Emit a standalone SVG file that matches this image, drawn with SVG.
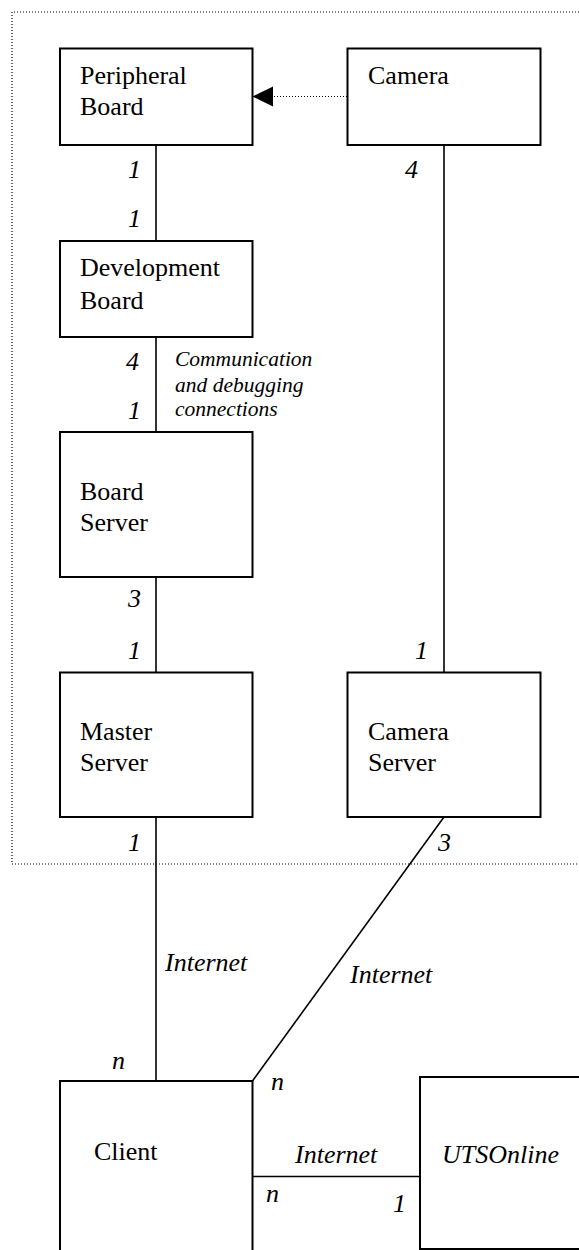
<svg xmlns="http://www.w3.org/2000/svg" width="579" height="1250" viewBox="0 0 579 1250">
<style>
.box{fill:#fff;stroke:#000;stroke-width:2}
.t{font-family:"Liberation Serif","Times New Roman",serif;font-size:26px;fill:#000}
.i{font-family:"Liberation Serif","Times New Roman",serif;font-size:26px;font-style:italic;fill:#000}
.s{font-family:"Liberation Serif","Times New Roman",serif;font-size:21.5px;font-style:italic;fill:#000}
.ln{stroke:#000;stroke-width:1.6;fill:none}
.dot{stroke:#000;stroke-width:1.2;stroke-dasharray:1 2;fill:none}
</style>
<g id="boundary">
<path class="dot" d="M579,12 H12 V864 H579"/>
</g>
<g id="connectors">
<path class="dot" d="M347,96.5 H273"/>
<path d="M252.5,96.5 L273,86.5 L273,106.5 Z" fill="#000"/>
<line class="ln" x1="156" y1="145" x2="156" y2="241"/>
<line class="ln" x1="444" y1="145" x2="444" y2="678"/>
<line class="ln" x1="156" y1="337" x2="156" y2="432"/>
<line class="ln" x1="156" y1="573" x2="156" y2="672"/>
<line class="ln" x1="156" y1="817" x2="156" y2="1081"/>
<line class="ln" x1="444" y1="817" x2="252.5" y2="1081"/>
<line class="ln" x1="252.5" y1="1176.5" x2="420" y2="1176.5"/>
</g>
<g id="peripheral-board">
<rect class="box" x="60" y="48.5" width="192.5" height="96.5"/>
<text class="t" x="80" y="83.5">Peripheral</text>
<text class="t" x="80" y="115">Board</text>
</g>
<g id="camera">
<rect class="box" x="347.5" y="48.5" width="193" height="96.5"/>
<text class="t" x="368" y="83.5">Camera</text>
</g>
<g id="development-board">
<rect class="box" x="60" y="241" width="192.5" height="96"/>
<text class="t" x="80" y="276">Development</text>
<text class="t" x="80" y="308.5">Board</text>
</g>
<g id="board-server">
<rect class="box" x="60" y="432" width="192.5" height="145"/>
<text class="t" x="80" y="499.5">Board</text>
<text class="t" x="80" y="531">Server</text>
</g>
<g id="master-server">
<rect class="box" x="60" y="672.5" width="192.5" height="144.5"/>
<text class="t" x="80" y="740">Master</text>
<text class="t" x="80" y="771">Server</text>
</g>
<g id="camera-server">
<rect class="box" x="347.5" y="672.5" width="193" height="144.5"/>
<text class="t" x="368" y="740">Camera</text>
<text class="t" x="368" y="771">Server</text>
</g>
<g id="client">
<path class="box" d="M60,1252 V1081 H252.5 V1252"/>
<text class="t" x="94" y="1160">Client</text>
</g>
<g id="utsonline">
<path class="box" d="M581,1077 H420 V1249 H581"/>
<text class="i" x="442" y="1163">UTSOnline</text>
</g>
<g id="labels">
<text class="i" x="128" y="178">1</text>
<text class="i" x="128" y="227">1</text>
<text class="i" x="405" y="178">4</text>
<text class="i" x="126" y="370">4</text>
<text class="i" x="128" y="418.5">1</text>
<text class="s" x="175" y="366">Communication</text>
<text class="s" x="175" y="392">and debugging</text>
<text class="s" x="175" y="416">connections</text>
<text class="i" x="128" y="607">3</text>
<text class="i" x="128" y="658.5">1</text>
<text class="i" x="415" y="658.5">1</text>
<text class="i" x="128" y="850.5">1</text>
<text class="i" x="438" y="850.5">3</text>
<text class="i" x="165" y="970.5">Internet</text>
<text class="i" x="350" y="983">Internet</text>
<text class="i" x="112" y="1068.5">n</text>
<text class="i" x="271" y="1090">n</text>
<text class="i" x="295" y="1163">Internet</text>
<text class="i" x="266" y="1202">n</text>
<text class="i" x="393" y="1212">1</text>
</g>
</svg>
